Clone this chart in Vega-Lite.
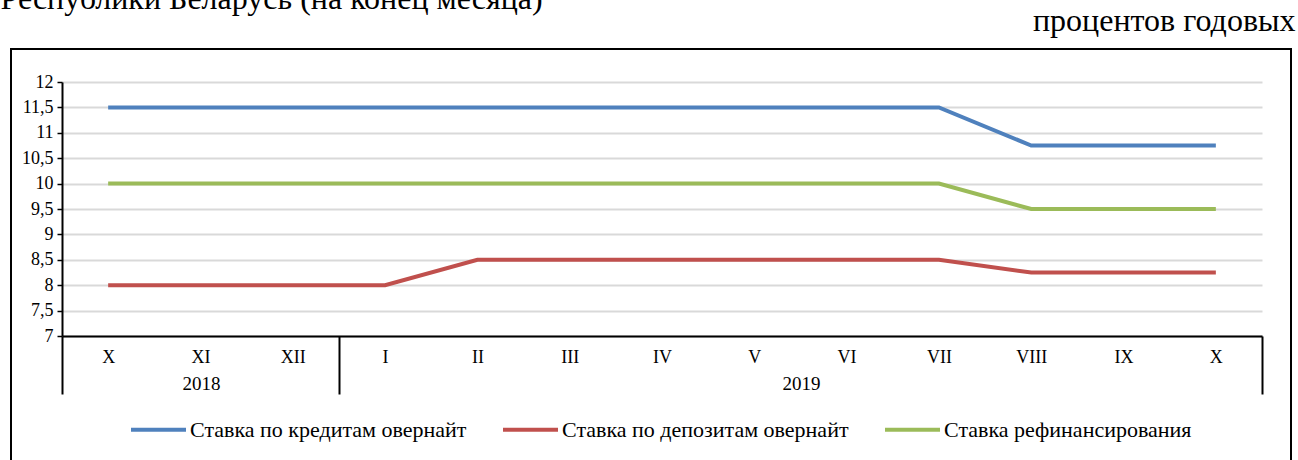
{
  "$schema": "https://vega.github.io/schema/vega-lite/v6.json",
  "autosize": {"type": "none"},
  "padding": {"left": 11, "top": 49, "right": 7, "bottom": -1},
  "width": 1280,
  "height": 412,
  "background": "white",
  "config": {
    "font": "Liberation Serif",
    "view": {"stroke": "black", "strokeWidth": 2},
    "axis": {"labelFont": "Liberation Serif", "labelColor": "black", "titleFont": "Liberation Serif", "titleColor": "black", "titleFontWeight": "normal"},
    "legend": {"labelFont": "Liberation Serif", "labelColor": "black"}
  },
  "datasets": {
    "rates": [
      {"key": "2018-X", "series": "Ставка по кредитам овернайт", "value": 11.5},
      {"key": "2018-XI", "series": "Ставка по кредитам овернайт", "value": 11.5},
      {"key": "2018-XII", "series": "Ставка по кредитам овернайт", "value": 11.5},
      {"key": "2019-I", "series": "Ставка по кредитам овернайт", "value": 11.5},
      {"key": "2019-II", "series": "Ставка по кредитам овернайт", "value": 11.5},
      {"key": "2019-III", "series": "Ставка по кредитам овернайт", "value": 11.5},
      {"key": "2019-IV", "series": "Ставка по кредитам овернайт", "value": 11.5},
      {"key": "2019-V", "series": "Ставка по кредитам овернайт", "value": 11.5},
      {"key": "2019-VI", "series": "Ставка по кредитам овернайт", "value": 11.5},
      {"key": "2019-VII", "series": "Ставка по кредитам овернайт", "value": 11.5},
      {"key": "2019-VIII", "series": "Ставка по кредитам овернайт", "value": 10.75},
      {"key": "2019-IX", "series": "Ставка по кредитам овернайт", "value": 10.75},
      {"key": "2019-X", "series": "Ставка по кредитам овернайт", "value": 10.75},
      {"key": "2018-X", "series": "Ставка по депозитам овернайт", "value": 8},
      {"key": "2018-XI", "series": "Ставка по депозитам овернайт", "value": 8},
      {"key": "2018-XII", "series": "Ставка по депозитам овернайт", "value": 8},
      {"key": "2019-I", "series": "Ставка по депозитам овернайт", "value": 8},
      {"key": "2019-II", "series": "Ставка по депозитам овернайт", "value": 8.5},
      {"key": "2019-III", "series": "Ставка по депозитам овернайт", "value": 8.5},
      {"key": "2019-IV", "series": "Ставка по депозитам овернайт", "value": 8.5},
      {"key": "2019-V", "series": "Ставка по депозитам овернайт", "value": 8.5},
      {"key": "2019-VI", "series": "Ставка по депозитам овернайт", "value": 8.5},
      {"key": "2019-VII", "series": "Ставка по депозитам овернайт", "value": 8.5},
      {"key": "2019-VIII", "series": "Ставка по депозитам овернайт", "value": 8.25},
      {"key": "2019-IX", "series": "Ставка по депозитам овернайт", "value": 8.25},
      {"key": "2019-X", "series": "Ставка по депозитам овернайт", "value": 8.25},
      {"key": "2018-X", "series": "Ставка рефинансирования", "value": 10},
      {"key": "2018-XI", "series": "Ставка рефинансирования", "value": 10},
      {"key": "2018-XII", "series": "Ставка рефинансирования", "value": 10},
      {"key": "2019-I", "series": "Ставка рефинансирования", "value": 10},
      {"key": "2019-II", "series": "Ставка рефинансирования", "value": 10},
      {"key": "2019-III", "series": "Ставка рефинансирования", "value": 10},
      {"key": "2019-IV", "series": "Ставка рефинансирования", "value": 10},
      {"key": "2019-V", "series": "Ставка рефинансирования", "value": 10},
      {"key": "2019-VI", "series": "Ставка рефинансирования", "value": 10},
      {"key": "2019-VII", "series": "Ставка рефинансирования", "value": 10},
      {"key": "2019-VIII", "series": "Ставка рефинансирования", "value": 9.5},
      {"key": "2019-IX", "series": "Ставка рефинансирования", "value": 9.5},
      {"key": "2019-X", "series": "Ставка рефинансирования", "value": 9.5}
    ],
    "years": [
      {"year": "2018", "start": 0, "end": 3},
      {"year": "2019", "start": 3, "end": 13}
    ]
  },
  "layer": [
    {
      "data": {"name": "rates"},
      "mark": {"type": "line", "strokeWidth": 4, "strokeCap": "butt"},
      "encoding": {
        "x": {
          "field": "key", "type": "ordinal", "sort": null,
          "scale": {"type": "point", "padding": 0.5, "range": [51, 1251]},
          "axis": {
            "orient": "bottom", "offset": -125, "labelExpr": "split(datum.label, '-')[1]",
            "ticks": false, "tickSize": 0, "domainColor": "black", "domainWidth": 2,
            "labelFontSize": 18, "labelPadding": 12, "labelAngle": 0, "grid": false,
            "title": "Республики Беларусь (на конец месяца)", "titleFontSize": 32,
            "titleAngle": 0, "titleAlign": "left", "titleBaseline": "alphabetic",
            "titleX": -11, "titleY": -328
          }
        },
        "y": {
          "field": "value", "type": "quantitative",
          "scale": {"domain": [7, 12], "range": [287, 33], "nice": false, "zero": false},
          "axis": {
            "values": [7, 7.5, 8, 8.5, 9, 9.5, 10, 10.5, 11, 11.5, 12],
            "format": "~g",
            "labelExpr": "replace(datum.label, '.', ',')", "offset": -51,
            "grid": true, "gridColor": "#d9d9d9", "gridWidth": 2,
            "tickColor": "black", "tickSize": 5, "tickWidth": 1.5,
            "domainColor": "black", "domainWidth": 2,
            "labelFontSize": 18, "labelPadding": 4,
            "title": "процентов годовых", "titleFontSize": 32, "titleAngle": 0,
            "titleAlign": "right", "titleBaseline": "alphabetic",
            "titleX": 1233, "titleY": -19
          }
        },
        "color": {
          "field": "series", "type": "nominal",
          "scale": {
            "domain": ["Ставка по кредитам овернайт", "Ставка по депозитам овернайт", "Ставка рефинансирования"],
            "range": ["#4F81BD", "#C0504D", "#9BBB59"]
          },
          "legend": {
            "orient": "none", "legendX": 118, "legendY": 351, "direction": "horizontal",
            "title": null, "symbolType": "stroke", "symbolSize": 3025, "symbolStrokeWidth": 4,
            "labelFontSize": 22, "labelOffset": 2, "labelLimit": 0, "columnPadding": 28
          }
        }
      }
    },
    {
      "data": {"name": "years"},
      "mark": {"type": "rule", "opacity": 0},
      "encoding": {
        "x": {
          "field": "end", "type": "quantitative",
          "scale": {"domain": [0, 13], "range": [51, 1251], "nice": false, "zero": false},
          "axis": {
            "orient": "bottom", "offset": -125, "values": [0, 3, 13],
            "labels": false, "domain": false, "grid": false,
            "ticks": true, "tickSize": 58, "tickColor": "black", "tickWidth": 2, "title": null
          }
        }
      }
    },
    {
      "data": {"name": "years"},
      "mark": {"type": "rule", "opacity": 0},
      "encoding": {
        "x": {
          "field": "year", "type": "ordinal",
          "scale": {"type": "point", "padding": 0, "range": [190, 790]},
          "axis": {
            "orient": "bottom", "offset": -125, "ticks": false, "tickSize": 0,
            "domain": false, "grid": false, "labelPadding": 38, "labelFontSize": 19,
            "labelAngle": 0, "title": null
          }
        }
      }
    }
  ],
  "resolve": {"scale": {"x": "independent"}, "axis": {"x": "independent"}}
}
